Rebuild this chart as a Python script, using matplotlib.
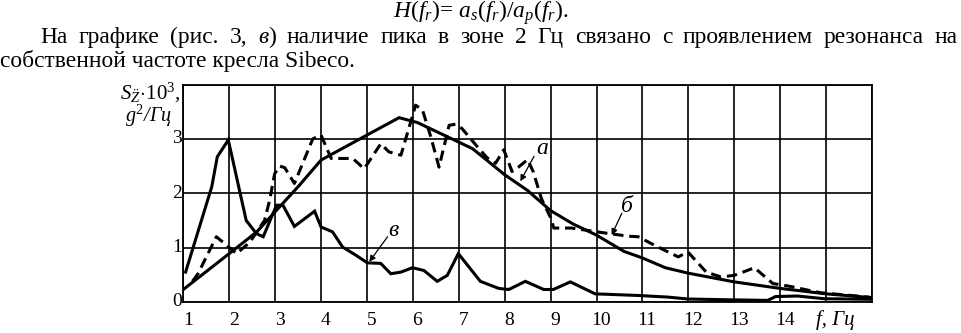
import matplotlib
matplotlib.use("Agg")
import matplotlib.pyplot as plt
from matplotlib import transforms

plt.rcParams['font.family'] = ['Liberation Serif', 'DejaVu Serif']
plt.rcParams['mathtext.fontset'] = 'custom'
plt.rcParams['mathtext.rm'] = 'Liberation Serif'
plt.rcParams['mathtext.it'] = 'Liberation Serif:italic'

# ---- data ----
a_x = [1.0, 1.5, 2.0, 2.6, 3.0, 3.5, 4.0, 4.5, 5.0, 5.7, 6.1, 6.5, 7.0, 7.3, 8.0, 8.5,
       9.0, 9.5, 10.0, 10.6, 11.0, 11.5, 12.0, 12.5, 13.0, 14.0, 15.0, 16.0]
a_y = [0.23, 0.56, 0.89, 1.29, 1.66, 2.12, 2.61, 2.84, 3.07, 3.39, 3.30, 3.14, 2.94, 2.82,
       2.34, 2.05, 1.68, 1.43, 1.23, 0.93, 0.81, 0.63, 0.53, 0.45, 0.37, 0.25, 0.15, 0.08]

b_x = [1.2, 1.32, 1.72, 2.16, 2.45, 2.77, 2.88, 2.99, 3.10, 3.21, 3.42, 3.82, 4.0, 4.22,
       4.69, 4.94, 5.30, 5.48, 5.74, 6.06, 6.21, 6.39, 6.57, 6.79, 6.93, 7.07, 7.44, 7.62,
       7.80, 7.98, 8.16, 8.30, 8.50, 8.62, 8.80, 9.0, 9.07, 9.45, 10.18, 10.69, 10.91,
       11.27, 11.56, 11.78, 11.99, 12.39, 12.71, 13.0, 13.44, 13.84, 14.2, 14.88, 15.93, 16.0]
b_y = [0.38, 0.52, 1.20, 0.89, 1.10, 1.50, 1.87, 2.36, 2.50, 2.47, 2.18, 3.00, 3.07, 2.64,
       2.64, 2.45, 2.91, 2.76, 2.70, 3.62, 3.53, 3.04, 2.48, 3.25, 3.27, 3.19, 2.82, 2.65,
       2.55, 2.80, 2.40, 2.48, 2.62, 2.40, 1.90, 1.55, 1.36, 1.36, 1.27, 1.21, 1.20,
       1.04, 0.92, 0.83, 0.92, 0.55, 0.46, 0.49, 0.63, 0.34, 0.29, 0.17, 0.09, 0.07]

v_x = [1.05, 1.62, 1.74, 1.98, 2.37, 2.59, 2.74, 3.03, 3.17, 3.42, 3.86, 4.0, 4.25, 4.47,
       4.76, 5.01, 5.30, 5.52, 5.74, 5.99, 6.24, 6.53, 6.75, 6.99, 7.47, 7.87, 8.09, 8.45,
       8.85, 9.06, 9.43, 9.97, 10.91, 11.56, 11.99, 12.93, 13.73, 13.9, 14.38, 14.96, 16.0]
v_y = [0.55, 2.12, 2.67, 2.98, 1.50, 1.26, 1.20, 1.78, 1.78, 1.39, 1.67, 1.38, 1.29, 1.01,
       0.86, 0.72, 0.71, 0.52, 0.55, 0.63, 0.58, 0.38, 0.49, 0.89, 0.38, 0.25, 0.23, 0.38,
       0.23, 0.23, 0.37, 0.15, 0.12, 0.09, 0.055, 0.04, 0.03, 0.10, 0.11, 0.06, 0.05]

x_ticks = list(range(1, 17))
x_tick_labels = [str(i) for i in range(1, 15)]
y_ticks = [0, 1, 2, 3, 4]
y_tick_labels = ['0', '1', '2', '3']

# ---- figure ----
W, H = 962, 333
fig = plt.figure(figsize=(W / 100, H / 100), dpi=100)
fig.patch.set_facecolor('white')
L, R, T, B = 183.3, 872.0, 84.5, 302.0
ax = fig.add_axes([L / W, 1 - B / H, (R - L) / W, (B - T) / H])
ax.set_xlim(1, 16)
ax.set_ylim(0, 4)
ax.set_xticks(x_ticks)
ax.set_yticks(y_ticks)
ax.grid(True, color='black', lw=1.2)
ax.tick_params(length=0, labelbottom=False, labelleft=False)
for s in ax.spines.values():
    s.set_linewidth(1.3)
    s.set_color('black')

lw = 2.2
ax.plot(a_x, a_y, color='black', lw=lw, solid_joinstyle='miter', zorder=3)
ax.plot(b_x, b_y, color='black', lw=lw, linestyle=(0, (3.4, 1.9)), zorder=3)
ax.plot(v_x, v_y, color='black', lw=lw, solid_joinstyle='miter', zorder=3)

# tick labels
xtr = ax.get_xaxis_transform()
for i, lab in enumerate(x_tick_labels):
    ax.text(x_ticks[i] + 0.1, -0.085, lab, transform=xtr, ha='center', va='center', fontsize=14)
ax.text(15.2, -0.085, 'f, Гц', transform=xtr, ha='center', va='center', fontsize=15,
        fontstyle='italic')
ytr = transforms.blended_transform_factory(ax.transAxes, ax.transData)
for i, lab in enumerate(y_tick_labels):
    ax.text(-0.009, y_ticks[i], lab, transform=ytr, ha='center', va='center', fontsize=14)

# y-axis label
fig.text(120 / W, 1 - 93 / H, r'$S_{\ddot{Z}}\!\cdot\!\mathit{10}^{\mathit{3}}$,', ha='left',
         va='center', fontsize=15, fontstyle='italic')
fig.text(125 / W, 1 - 116 / H, r'$g^{\mathit{2}}$/Гц', ha='left', va='center', fontsize=14.5,
         fontstyle='italic')

# curve labels with arrows
arrow = dict(arrowstyle='-|>', lw=0.9, color='black', mutation_scale=9, shrinkA=0, shrinkB=0)
ax.annotate('', xy=(8.34, 2.22), xytext=(8.64, 2.68), arrowprops=arrow, zorder=5)
ax.text(8.82, 2.82, 'a', fontsize=17, fontstyle='italic', ha='center', va='center')
ax.annotate('', xy=(10.33, 1.23), xytext=(10.55, 1.63), arrowprops=arrow, zorder=5)
ax.text(10.67, 1.76, 'б', fontsize=17, fontstyle='italic', ha='center', va='center')
ax.annotate('', xy=(5.05, 0.74), xytext=(5.45, 1.20), arrowprops=arrow, zorder=5)
ax.text(5.58, 1.31, 'в', fontsize=17, fontstyle='italic', ha='center', va='center')

# ---- text above the chart ----
renderer = fig.canvas.get_renderer()


def px(x, y):
    return x / W, 1 - y / H


def twidth(t):
    return t.get_window_extent(renderer).width


# line 3 (left aligned) – fit font size to its width in the picture
base = 14.0
line3 = fig.text(*px(0, 67), 'собственной частоте кресла Sibeco.', fontsize=base,
                 ha='left', va='baseline')
fs = base * 355.0 / twidth(line3)
line3.set_fontsize(fs)

# formula line
fig.text(*px(481, 18), r'$H(f_r)$= $a_s(f_r)/a_p(f_r)$.', fontsize=fs, ha='center',
         va='baseline')

# line 2 (justified from x=40 to x=958)
words = [[('На', 'normal')], [('графике', 'normal')], [('(рис.', 'normal')], [('3,', 'normal')],
         [('в', 'italic'), (')', 'normal')], [('наличие', 'normal')], [('пика', 'normal')],
         [('в', 'normal')], [('зоне', 'normal')], [('2', 'normal')], [('Гц', 'normal')],
         [('связано', 'normal')], [('с', 'normal')], [('проявлением', 'normal')],
         [('резонанса', 'normal')], [('на', 'normal')]]
y2 = 43
items = []
total = 0
for w in words:
    parts = []
    wsum = 0
    for txt, st in w:
        t = fig.text(*px(0, y2), txt, fontsize=fs, fontstyle=st, ha='left', va='baseline')
        tw = twidth(t)
        parts.append((t, tw))
        wsum += tw
    items.append((parts, wsum))
    total += wsum
x0, x1 = 40, 958
gap = (x1 - x0 - total) / (len(items) - 1)
x = x0
for parts, wsum in items:
    xx = x
    for t, tw in parts:
        t.set_position(px(xx, y2))
        xx += tw
    x += wsum + gap

fig.savefig('out.png', dpi=100, facecolor='white')
